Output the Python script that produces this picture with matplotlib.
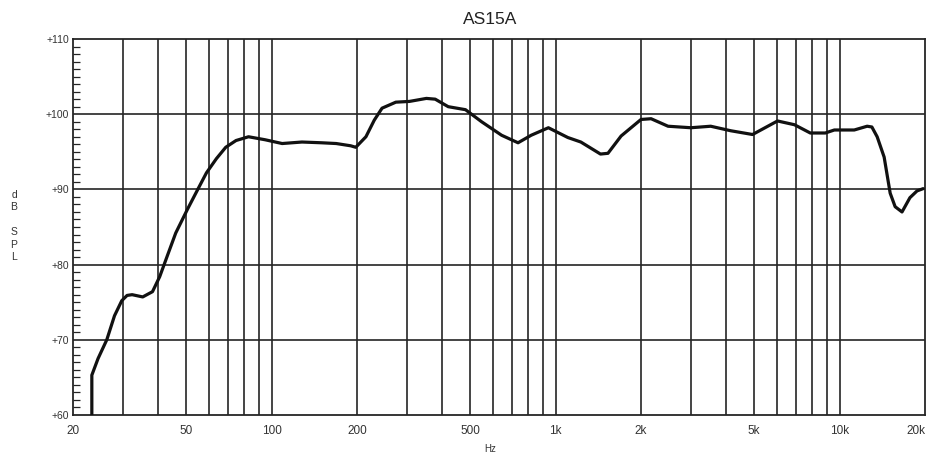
#!/usr/bin/env python3
# AS15A frekvencijski odziv (dB SPL vs Hz), log x-osa
import numpy as np
import matplotlib
matplotlib.use('Agg')
import matplotlib.pyplot as plt
from matplotlib.ticker import FixedLocator, MultipleLocator, NullFormatter

TITLE = "AS15A"

freq_hz = [23.3, 23.3, 24.5, 26.3, 28.0, 29.7, 31.0, 32.3, 35.2, 38.1, 40.4,
           43, 46, 50.5, 55, 59, 64, 69, 75, 83, 95,
           109, 128, 150, 169, 190, 198, 215, 230, 245, 274,
           306, 351, 377, 419, 482, 549, 646, 738, 821, 944,
           1105, 1228, 1440, 1530, 1702, 2000, 2170, 2490, 2995, 3520,
           4140, 4940, 6050, 6940, 7890, 8910, 9590, 11270, 12510, 13000,
           13570, 14360, 15080, 15700, 16600, 17700, 18750, 19700]
spl_db = [60.0, 65.3, 67.5, 70.0, 73.2, 75.2, 75.9, 76.0, 75.7, 76.4, 78.4,
          81.2, 84.2, 87.3, 90.0, 92.2, 94.1, 95.6, 96.5, 97.0, 96.6,
          96.1, 96.3, 96.2, 96.1, 95.8, 95.6, 97.0, 99.2, 100.8, 101.6,
          101.7, 102.1, 102.0, 101.0, 100.6, 99.0, 97.2, 96.2, 97.2, 98.2,
          96.9, 96.3, 94.7, 94.8, 97.1, 99.3, 99.4, 98.4, 98.2, 98.4,
          97.8, 97.3, 99.1, 98.6, 97.5, 97.5, 97.9, 97.9, 98.4, 98.3,
          97.0, 94.3, 89.5, 87.7, 87.0, 88.9, 89.8, 90.1]

x_ticks = [20, 50, 100, 200, 500, 1000, 2000, 5000, 10000, 20000]
x_labels = ['20', '50', '100', '200', '500', '1k', '2k', '5k', '10k', '20k']
y_ticks = [60, 70, 80, 90, 100, 110]
y_labels = ['+60', '+70', '+80', '+90', '+100', '+110']
grid_x = (list(range(30, 100, 10)) + list(range(100, 1000, 100))
          + list(range(1000, 10000, 1000)) + [10000])

plt.rcParams['font.family'] = ['Liberation Sans', 'DejaVu Sans']

fig = plt.figure(figsize=(9.26, 4.55), dpi=100)
ax = fig.add_axes([73/926, 1 - 415/455, 852/926, 376/455])

GRID = '#252525'
for gx in grid_x:
    ax.axvline(gx, color=GRID, lw=1.2, zorder=1)
for gy in y_ticks[1:-1]:
    ax.axhline(gy, color=GRID, lw=1.2, zorder=1)

ax.plot(freq_hz, spl_db, color='#111111', lw=2.3, solid_joinstyle='round',
        solid_capstyle='round', zorder=3)

ax.set_xscale('log')
ax.set_xlim(20, 20000)
ax.set_ylim(60, 110)

ax.xaxis.set_major_locator(FixedLocator(x_ticks))
ax.set_xticklabels(x_labels)
ax.xaxis.set_minor_formatter(NullFormatter())
ax.tick_params(axis='x', which='both', length=0, labelsize=8.5, pad=7,
               colors='#333333')
# zadnja oznaka (20k) je u originalu pomjerena ulijevo
ax.get_xticklabels()[-1].set_horizontalalignment('right')

ax.set_yticks(y_ticks)
ax.set_yticklabels(y_labels)
ax.yaxis.set_minor_locator(MultipleLocator(1))
ax.tick_params(axis='y', which='major', length=0, labelsize=7.5, pad=3,
               colors='#333333')
ax.tick_params(axis='y', which='minor', direction='in', length=5,
               width=0.9, color=GRID, left=True, right=False)

for s in ax.spines.values():
    s.set_color(GRID)
    s.set_linewidth(1.3)

fig.text(490/926, 1 - 19/455, TITLE, ha='center', va='center',
         fontsize=12.5, color='#222222')
fig.text(490/926, 1 - 449/455, 'Hz', ha='center', va='center',
         fontsize=7, color='#333333')
fig.text(14/926, 1 - 226/455, 'd\nB\n\nS\nP\nL', ha='center', va='center',
         fontsize=7.5, color='#333333', linespacing=1.3)

plt.savefig('out.png', dpi=100, facecolor='white')
plt.close()
